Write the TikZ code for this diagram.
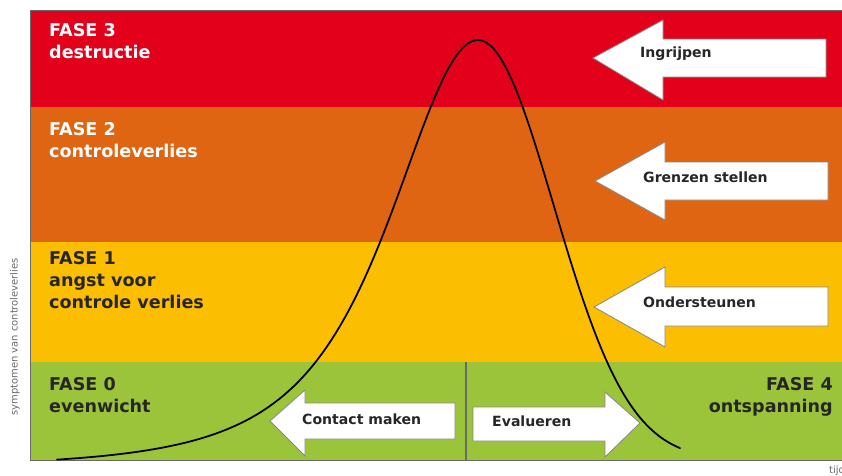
\documentclass[tikz,border=0pt]{standalone}
\usepackage{fontspec}
\setmainfont{DejaVu Sans}
\usepackage{tikz}
\usetikzlibrary{positioning}

\definecolor{faseRood}{RGB}{226,0,26}
\definecolor{faseOranje}{RGB}{223,101,18}
\definecolor{faseGeel}{RGB}{251,190,0}
\definecolor{faseGroen}{RGB}{155,196,58}
\definecolor{randGrijs}{RGB}{105,105,105}

\tikzset{
  fase/.style={anchor=north west,inner sep=0pt,align=left,font=\fontsize{15}{18.7}\selectfont\bfseries},
  pijl/.style={fill=white,draw=randGrijs!80,line width=0.7pt,line join=miter},
  pijltekst/.style={anchor=west,inner sep=0pt,text=black!85,font=\fontsize{12}{13}\selectfont\bfseries},
  as/.style={inner sep=0pt,text=randGrijs,font=\fontsize{8.5}{10}\selectfont}
}

\begin{document}
\begin{tikzpicture}[x=0.03cm,y=-0.03cm]
    \useasboundingbox (0,0) rectangle (842,475);

    % banden
    \fill[faseRood]   (30,10)  rectangle (842,107);
    \fill[faseOranje] (30,107) rectangle (842,242);
    \fill[faseGeel]   (30,242) rectangle (842,362);
    \fill[faseGroen]  (30,362) rectangle (842,460);
    \draw[randGrijs,line width=0.8pt] (842,10) -- (30,10) -- (30,460) -- (842,460);
    \draw[randGrijs,line width=1.2pt] (466,362) -- (466,460);

    % fasen
    \node[fase,text=white]    (f3) at (49,23)  {FASE 3\\destructie};
    \node[fase,text=white]    (f2) at (49,122) {FASE 2\\controleverlies};
    \node[fase,text=black!85] (f1) at (49,251) {FASE 1\\angst voor\\controle verlies};
    \node[fase,text=black!85] (f0) at (49,377) {FASE 0\\evenwicht};
    \node[fase,text=black!85,anchor=north east,align=right] (f4) at (833,377) {FASE 4\\ontspanning};

    % pijlen
    \draw[pijl] (593,58) -- (663,20) -- (663,39) -- (826,39) -- (826,77) -- (663,77) -- (663,100) -- cycle;
    \node[pijltekst] (ingrijpen) at (640,54) {Ingrijpen};
    \draw[pijl] (595,181) -- (665,142) -- (665,162) -- (828,162) -- (828,200) -- (665,200) -- (665,220) -- cycle;
    \node[pijltekst] (grenzen) at (643,177) {Grenzen stellen};
    \draw[pijl] (594,307) -- (665,267) -- (665,287) -- (828,287) -- (828,326) -- (665,326) -- (665,347) -- cycle;
    \node[pijltekst] (steunen) at (643,302) {Ondersteunen};
    \draw[pijl] (270,421) -- (305,390) -- (305,403) -- (455,403) -- (455,439) -- (305,439) -- (305,456) -- cycle;
    \node[pijltekst] (contact) at (302,419) {Contact maken};
    \draw[pijl] (473,407) -- (605,407) -- (605,392) -- (640,423) -- (605,457) -- (605,441) -- (473,441) -- cycle;
    \node[pijltekst] (evalueren) at (492,421) {Evalueren};

    % curve
    \draw[black,line width=1.5pt,line cap=round]
      plot[domain=57:478,samples=90] (\x,{460-428*(exp(-1.8*ln(1+((\x-478)/150)^2))-0.0187)})
      -- plot[domain=478:680,samples=50] (\x,{460-420*exp(-((\x-478)/107)^2)});

    % assen
    \node[as,rotate=90] (yas) at (15,337) {symptomen van controleverlies};
    \node[as,anchor=west] (tijd) at (829,471) {tijd};
\end{tikzpicture}
\end{document}
